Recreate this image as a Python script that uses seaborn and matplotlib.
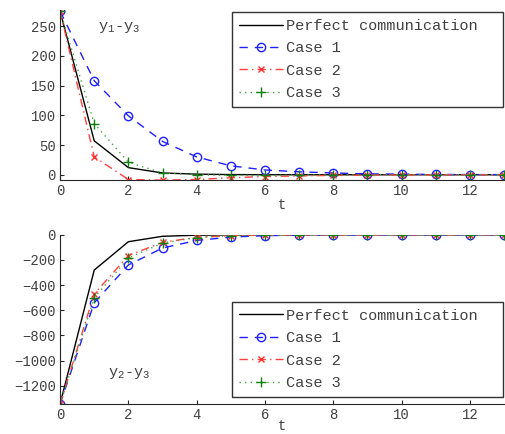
import numpy as np
import pandas as pd
import matplotlib
matplotlib.use('Agg')
import matplotlib.pyplot as plt
import seaborn as sns

t = list(range(14))

# y1 - y3
top_perfect = [275, 57, 12, 3, 1, 0.3, 0.1, 0, 0, 0, 0, 0, 0, 0]
top_case1 = [275, 158, 99, 56, 30, 15, 8, 5, 3, 1.5, 1, 0.5, 0.3, 0.2]
top_case2 = [275, 30, -8, -9, -8, -5, -3, -2, -1, -0.5, -0.3, -0.2, -0.1, 0]
top_case3 = [275, 86, 21, 3, 0, -1, -1, -0.5, -0.3, -0.2, -0.1, 0, 0, 0]

# y2 - y3
bot_perfect = [-1345, -280, -55, -12, -3, -1, 0, 0, 0, 0, 0, 0, 0, 0]
bot_case1 = [-1345, -540, -240, -105, -45, -18, -7, -3, -1, -0.5, 0, 0, 0, 0]
bot_case2 = [-1345, -470, -165, -60, -20, -7, -2, -1, 0, 0, 0, 0, 0, 0]
bot_case3 = [-1345, -500, -185, -65, -22, -7, -2, -1, 0, 0, 0, 0, 0, 0]

labels = ['Perfect communication', 'Case 1', 'Case 2', 'Case 3']

sns.set_style('ticks')
plt.rcParams['font.family'] = ['Liberation Mono', 'DejaVu Sans Mono']
plt.rcParams['mathtext.fontset'] = 'custom'
plt.rcParams['mathtext.rm'] = 'Liberation Mono'
plt.rcParams['mathtext.it'] = 'Liberation Mono'

styles = [
    dict(color='black', linestyle='-', marker=None),
    dict(color='#1f1fff', linestyle=(0, (6, 5)), marker='o', markersize=6,
         markerfacecolor='none', markeredgecolor='#1f1fff'),
    dict(color='#ff4040', linestyle=(0, (6, 3, 1, 3)), marker='x', markersize=5,
         markeredgecolor='#ff3030'),
    dict(color='#40a840', linestyle=(0, (1, 3)), marker='+', markersize=7,
         markeredgecolor='#108010'),
]

fig = plt.figure(figsize=(5.05, 4.34), dpi=100)
ax1 = fig.add_axes([0.119, 0.585, 0.879, 0.392])
ax2 = fig.add_axes([0.119, 0.069, 0.879, 0.390])

grey = '#404040'

def draw(ax, series, ylim, yticks, legend_box, text, text_xy, xpad):
    for vals, lab, st in zip(series, labels, styles):
        df = pd.DataFrame({'t': t, 'v': vals})
        sns.lineplot(data=df, x='t', y='v', ax=ax, label=lab, linewidth=1,
                     markeredgewidth=1, **st)
    ax.set_xlim(0, 13)
    ax.set_ylim(*ylim)
    ax.set_yticks(yticks)
    ax.set_xticks([0, 2, 4, 6, 8, 10, 12])
    ax.set_ylabel('')
    ax.set_xlabel('t', color=grey, fontsize=10, labelpad=xpad)
    for s in ['top', 'right']:
        ax.spines[s].set_visible(False)
    ax.tick_params(direction='in', length=3, labelsize=10, labelcolor=grey,
                   pad=3)
    leg = ax.legend(loc='upper left', bbox_to_anchor=legend_box, mode='expand',
                    fontsize=11, frameon=True, fancybox=False,
                    edgecolor='black', handlelength=2.9, labelspacing=0.55,
                    borderpad=0.45, handletextpad=0.2, borderaxespad=0)
    leg.get_frame().set_linewidth(1)
    for txt in leg.get_texts():
        txt.set_color(grey)
    ax.text(text_xy[0], text_xy[1], text, fontsize=11, color=grey,
            transform=ax.transData)

draw(ax1, [top_perfect, top_case1, top_case2, top_case3], (-9, 277),
     [0, 50, 100, 150, 200, 250], (0.387, 0.44, 0.61, 0.548),
     r'y$_1$-y$_3$', (1.1, 243), 0)
draw(ax2, [bot_perfect, bot_case1, bot_case2, bot_case3], (-1345, 0),
     [-1200, -1000, -800, -600, -400, -200, 0], (0.387, 0.05, 0.61, 0.554),
     r'y$_2$-y$_3$', (1.4, -1120), -2)

fig.savefig('out.png', dpi=100)
